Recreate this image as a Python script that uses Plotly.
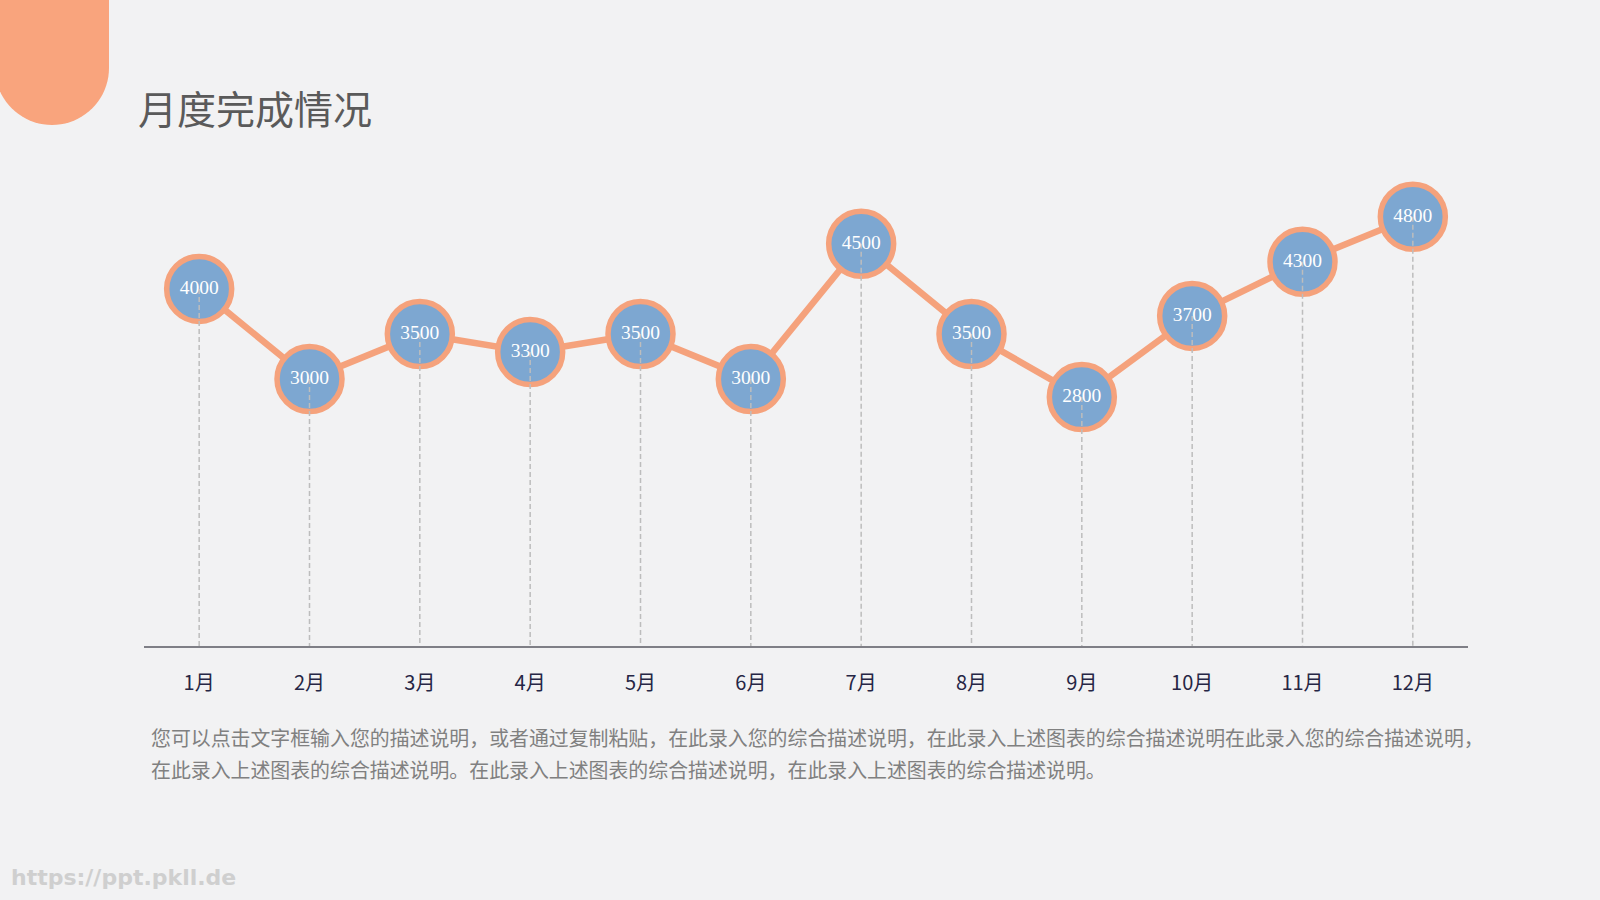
import math
import plotly.graph_objects as go

months = ["1月", "2月", "3月", "4月", "5月", "6月", "7月", "8月", "9月", "10月", "11月", "12月"]
values = [4000, 3000, 3500, 3300, 3500, 3000, 4500, 3500, 2800, 3700, 4300, 4800]

title_text = "月度完成情况"
desc_line1 = "您可以点击文字框输入您的描述说明，或者通过复制粘贴，在此录入您的综合描述说明，在此录入上述图表的综合描述说明在此录入您的综合描述说明，"
desc_line2 = "在此录入上述图表的综合描述说明。在此录入上述图表的综合描述说明，在此录入上述图表的综合描述说明。"
watermark = "https://ppt.pkll.de"

W, H = 1600, 900
ML, MR, MT, MB = 144, 132, 150, 254
PW, PH = W - ML - MR, H - MT - MB

ORANGE = "#F5A27C"
BLUE = "#7DA7D1"
BG = "#F2F2F3"

Y_MIN, Y_MAX = 40, 5540


def px(x):
    return (x - ML) / PW


def py(y):
    return (H - MB - y) / PH


xs = list(range(len(months)))

fig = go.Figure()

fig.add_trace(go.Scatter(x=xs, y=values, mode="lines",
                         line=dict(color=ORANGE, width=6.5), hoverinfo="skip"))
fig.add_trace(go.Scatter(x=xs, y=values, mode="markers",
                         marker=dict(size=65, color=BLUE, line=dict(color=ORANGE, width=5.5)),
                         hoverinfo="skip"))
dx, dy = [], []
for x, v in zip(xs, values):
    dx += [x, x, None]
    dy += [v, Y_MIN, None]
fig.add_trace(go.Scatter(x=dx, y=dy, mode="lines",
                         line=dict(color="#BDBDBD", width=1.5, dash="5px,3px"),
                         hoverinfo="skip"))
fig.add_trace(go.Scatter(x=xs, y=values, mode="text", text=[str(v) for v in values],
                         textposition="middle center",
                         textfont=dict(family="Liberation Serif", size=19.5, color="white"),
                         hoverinfo="skip"))

cx, r, bottom = 52, 57, 125
yc = bottom - r
pts = [(cx - r, -10), (cx - r, yc)]
for i in range(1, 40):
    a = math.pi - math.pi * i / 40
    pts.append((cx + r * math.cos(a), yc + r * math.sin(a)))
pts += [(cx + r, yc), (cx + r, -10)]
path = "M " + " L ".join(f"{px(x):.5f},{py(y):.5f}" for x, y in pts) + " Z"
fig.add_shape(type="path", path=path, xref="paper", yref="paper",
              fillcolor="#F9A47D", line=dict(width=0), layer="below")

fig.add_annotation(text=title_text, xref="paper", yref="paper", x=px(136), y=py(107),
                   xanchor="left", yanchor="middle", showarrow=False,
                   font=dict(family="Noto Sans CJK SC", size=39, color="#5A5A5A"))
fig.add_annotation(text=desc_line1, xref="paper", yref="paper", x=px(149), y=py(737),
                   xanchor="left", yanchor="middle", showarrow=False,
                   font=dict(family="Noto Sans CJK SC", size=19.9, color="#808080"))
fig.add_annotation(text=desc_line2, xref="paper", yref="paper", x=px(149), y=py(769),
                   xanchor="left", yanchor="middle", showarrow=False,
                   font=dict(family="Noto Sans CJK SC", size=19.9, color="#808080"))
fig.add_annotation(text="<b>" + watermark + "</b>", xref="paper", yref="paper", x=px(9), y=py(877),
                   xanchor="left", yanchor="middle", showarrow=False,
                   font=dict(family="DejaVu Sans", size=22, color="#CFCFCF"))

fig.update_layout(
    width=W, height=H,
    margin=dict(l=ML, r=MR, t=MT, b=MB),
    paper_bgcolor=BG, plot_bgcolor=BG,
    showlegend=False,
    xaxis=dict(range=[-0.5, len(months) - 0.5], tickmode="array", tickvals=xs, ticktext=months,
               showgrid=False, zeroline=False, showline=True, linecolor="#7F7F86", linewidth=2,
               ticks="", ticklabelstandoff=18,
               tickfont=dict(family="Noto Sans CJK SC", size=20, color="#262645"),
               fixedrange=True),
    yaxis=dict(range=[Y_MIN, Y_MAX], visible=False, fixedrange=True),
)

fig.write_html("out.html")
